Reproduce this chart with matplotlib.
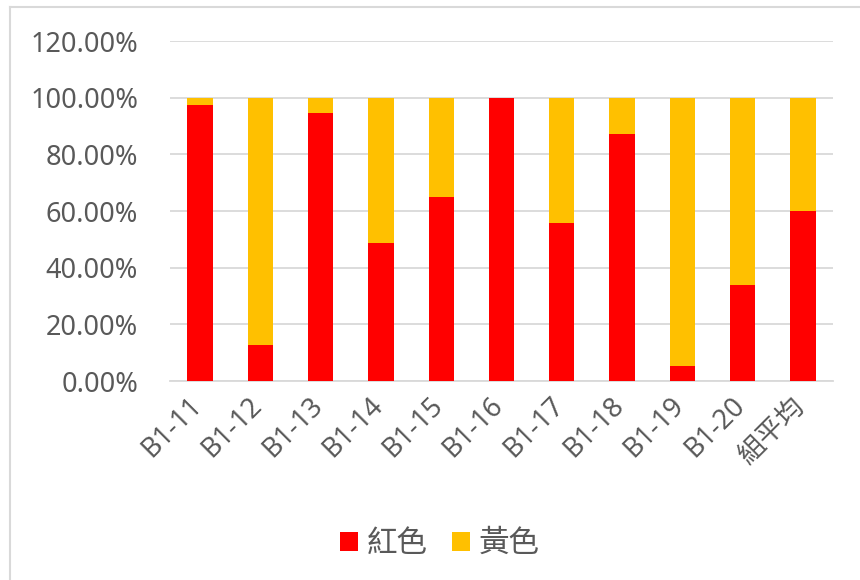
import numpy as np
from matplotlib import pyplot as plt
from matplotlib.lines import Line2D
import matplotlib.transforms as mtransforms

plt.rcParams['font.family'] = ['Noto Sans', 'Noto Sans CJK TC', 'DejaVu Sans']

# data (percent)
groups = ["B1-11", "B1-12", "B1-13", "B1-14", "B1-15", "B1-16",
          "B1-17", "B1-18", "B1-19", "B1-20", "組平均"]
red = [97.5, 12.7, 94.5, 48.7, 64.9, 100.0, 55.8, 87.1, 5.4, 33.8, 60.0]
yellow = [100 - r for r in red]
series_names = ["紅色", "黃色"]
colors = ["#ff0000", "#ffc000"]

fig = plt.figure(figsize=(8.6, 5.8), dpi=100)
ax = fig.add_axes([170/860, 1 - 381/580, 663/860, 340/580])

x = np.arange(len(groups))
w = 0.42
ax.bar(x, red, w, color=colors[0], label=series_names[0], zorder=3)
ax.bar(x, yellow, w, bottom=red, color=colors[1], label=series_names[1], zorder=3)

ax.set_xlim(-0.5, len(groups) - 0.5)
ax.set_ylim(0, 120)
ax.set_yticks(np.arange(0, 121, 20))
ax.set_yticklabels(["%.2f%%" % v for v in np.arange(0, 121, 20)])
ax.yaxis.grid(True, color="#d9d9d9", linewidth=1.3, zorder=0)
ax.set_axisbelow(True)
for s in ["top", "right", "left"]:
    ax.spines[s].set_visible(False)
ax.spines["bottom"].set_color("#d9d9d9")
ax.spines["bottom"].set_linewidth(1.3)
ax.tick_params(length=0, colors="#595959", labelsize=19.5)
ax.tick_params(axis="y", pad=23)
ax.set_xticks(x)
ax.set_xticklabels(groups, rotation=45, ha="right", va="center",
                   rotation_mode="anchor")
ax.tick_params(axis="x", pad=15)
offset = mtransforms.ScaledTranslation(-1.5/72, 0, fig.dpi_scale_trans)
for lab in ax.get_xticklabels():
    lab.set_transform(lab.get_transform() + offset)

fig.legend(loc="center", bbox_to_anchor=(440/860, 1 - 544/580), ncol=2,
           frameon=False, fontsize=22, handlelength=0.58, handleheight=0.58,
           handletextpad=0.3, columnspacing=0.8, labelcolor="#595959")

# chart border
fig.add_artist(Line2D([10/860, 10/860], [0, 1 - 7/580], color="#d9d9d9",
                      linewidth=1.5, transform=fig.transFigure))
fig.add_artist(Line2D([10/860, 1], [1 - 7/580, 1 - 7/580], color="#d9d9d9",
                      linewidth=1.5, transform=fig.transFigure))

fig.savefig("out.png", dpi=100)
